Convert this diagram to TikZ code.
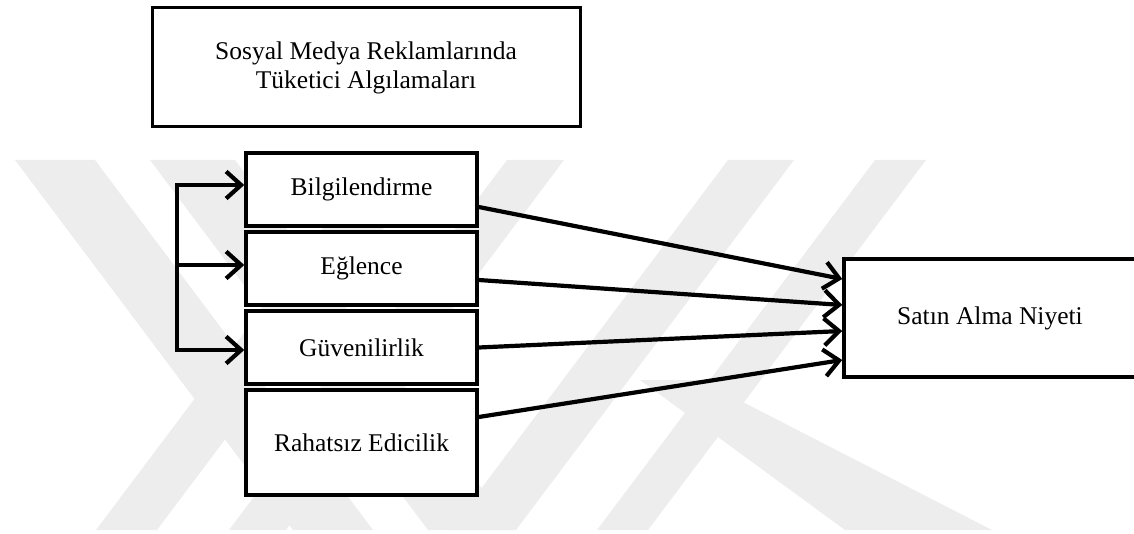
\documentclass[tikz,border=0pt]{standalone}
\usepackage{fontspec}
\setmainfont{Liberation Serif}
\usetikzlibrary{arrows.meta}
\begin{document}
\begin{tikzpicture}[x=1pt,y=-1pt,
  box/.style={draw, line width=3.5pt, fill=white, minimum width=231pt, inner sep=0pt,
    font=\fontsize{25.5}{29}\selectfont},
  tip/.tip={Straight Barb[length=15pt,width=27pt]},
  conn/.style={line width=4.2pt, -tip},
  wm/.style={fill=black!7, draw=none}]
\useasboundingbox (0,0) rectangle (1134,534);
% faint background watermark
\fill[wm] (15,160) -- (95,160) -- (373,530) -- (293,530) -- cycle;
\fill[wm] (150,160) -- (235,160) -- (513,530) -- (428,530) -- cycle;
\fill[wm] (96,530) -- (157,530) -- (435,160) -- (374,160) -- cycle;
\fill[wm] (229,530) -- (286,530) -- (564,160) -- (507,160) -- cycle;
\fill[wm] (450,530) -- (516,530) -- (794,160) -- (728,160) -- cycle;
\fill[wm] (597,530) -- (648,530) -- (926,160) -- (875,160) -- cycle;
\fill[wm] (640,380) -- (700,380) -- (992,530) -- (845,530) -- cycle;
% nodes
\node[box, line width=3pt, minimum width=428pt, minimum height=119pt, align=center] (top) at (366,67.5)
  {Sosyal Medya Reklamlarında\\Tüketici Algılamaları};
\node[box, minimum height=73pt] (bilgi) at (361.5,189.5) {Bilgilendirme};
\node[box, minimum height=73pt] (eglence) at (361.5,268.5) {Eğlence};
\node[box, minimum height=73pt] (guven) at (361.5,347.5) {Güvenilirlik};
\node[box, minimum height=105pt] (rahat) at (361.5,442.5) {Rahatsız Edicilik};
\node[box, minimum width=292pt, minimum height=118pt] (satin) at (990,318) {Satın Alma Niyeti};
% bracket on the left
\coordinate (k1) at (177,185);
\coordinate (k2) at (177,265);
\coordinate (k3) at (177,350);
\draw[line width=4.2pt, tip-tip]
  (k1 -| bilgi.west) -- (k1) -- (k3) -- (k3 -| guven.west);
\draw[conn] (k2) -- (k2 -| eglence.west);
% arrows to purchase intention
\draw[conn] ([yshift=-17.5pt]bilgi.east) -- ([yshift=39pt]satin.west);
\draw[conn] ([yshift=-11.5pt]eglence.east) -- ([yshift=13pt]satin.west);
\draw[conn] (guven.east) -- ([yshift=-13pt]satin.west);
\draw[conn] ([yshift=25.5pt]rahat.east) -- ([yshift=-42pt]satin.west);
\end{tikzpicture}
\end{document}
